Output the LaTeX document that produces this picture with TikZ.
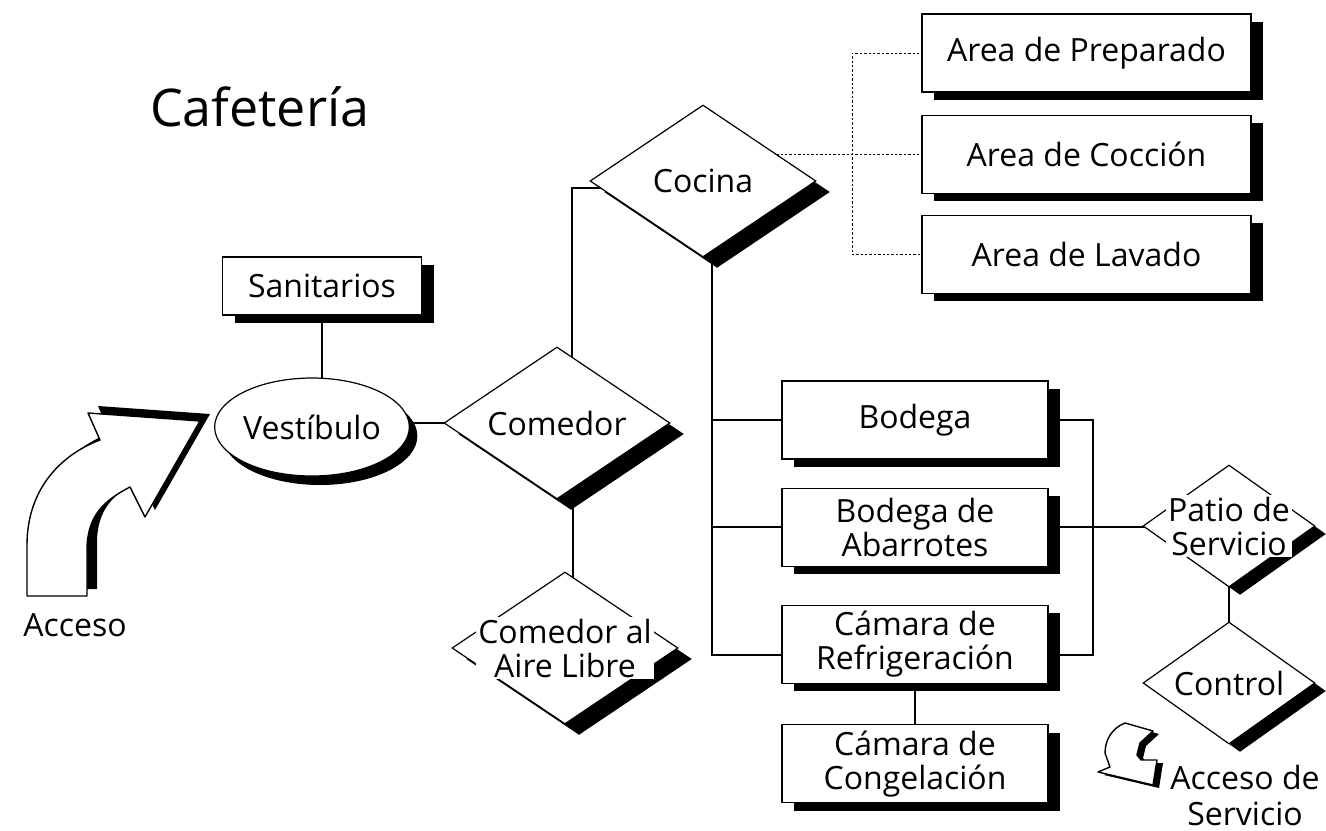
\documentclass[tikz,border=0pt]{standalone}
\usepackage{fontspec}
\setmainfont{Open Sans}
\usetikzlibrary{positioning,calc,shapes.geometric,shadows,backgrounds}
\tikzset{caja/.style={draw,fill=white,line width=.6pt,minimum width=133pt,minimum height=39pt,align=center,inner sep=2pt,
   drop shadow={shadow xshift=6pt,shadow yshift=-4pt,fill=black,opacity=1}},
 area/.style={caja,minimum width=164.5pt},
 elip/.style={ellipse,draw,fill=white,line width=.6pt,minimum width=88pt,minimum height=49pt,inner sep=0pt,
   drop shadow={shadow xshift=4pt,shadow yshift=-4.5pt,fill=black,opacity=1}},
 dia/.style={diamond,draw,fill=white,line width=.6pt,inner sep=0pt,
   label={[fill=white,inner sep=1pt,align=center]center:#1}},
 dg/.style={dia={#1},minimum width=113pt,minimum height=76pt,
   drop shadow={shadow xshift=7pt,shadow yshift=-5.5pt,fill=black,opacity=1}},
 dp/.style={dia={#1},minimum width=86pt,minimum height=61pt,
   drop shadow={shadow xshift=5.5pt,shadow yshift=-4pt,fill=black,opacity=1}},
 wire/.style={line width=1pt},punt/.style={line width=.5pt,dash pattern=on 1.2pt off 1pt},
 flecha/.style={draw,fill=white,line width=.7pt,line join=round,preaction={fill=black,transform canvas={shift={#1}}}},
 every node/.style={font=\fontsize{16}{17}\selectfont}}
\begin{document}
\begin{tikzpicture}[x=0.5pt,y=-0.5pt]
\useasboundingbox (0,0) rectangle (1326,830);
\node[anchor=west,font=\fontsize{26}{30}\selectfont] (tit) at (143,107) {Cafetería};
% entrada
\draw[flecha={(5pt,3.5pt)}] (27,596) -- (27,545) .. controls (27,490) and (60,455) .. (100,440) -- (88,413) -- (200,421)
  -- (145,517) -- (130,487) .. controls (105,500) and (87,515) .. (87,550) -- (87,596) -- cycle;
\node (acc) at (75,625) {Acceso};
\node[caja,minimum width=99.5pt,minimum height=29pt] (sani) at (322,286) {Sanitarios};
\node[elip] (vest) at (312,427) {Vestíbulo};
% rombos
\node[dg=Comedor] (com) at (557,423) {};
\node[dg=Cocina] (coc) at (703,181) {};
\node[dg={Comedor al\\Aire Libre}] (air) at (565,648) {};
% areas de cocina
\node[area] (prep) at (1086.5,53) {Area de Preparado};
\node[area,below=11pt of prep] (cocc) {Area de Cocción};
\node[area,below=10.5pt of cocc] (lav) {Area de Lavado};
% bodegas
\node[caja] (bod) at (915,420) {Bodega};
\node[caja,below=14pt of bod] (aba) {Bodega de\\Abarrotes};
\node[caja,below=19pt of aba] (ref) {Cámara de\\Refrigeración};
\node[caja,below=20pt of ref] (cong) {Cámara de\\Congelación};
% servicio
\node[dp={Patio de\\Servicio}] (pat) at (1229,526) {};
\node[dp=Control] (ctl) at (1229,683) {};
\draw[flecha={(3pt,-1.5pt)}] (1125,723) -- (1153,731) -- (1140,743) -- (1137,755) -- (1141,760) -- (1157,760)
  -- (1153,785) -- (1098,772) -- (1110,767) -- (1105,753) .. controls (1105,740) and (1112,728) .. (1125,723) -- cycle;
\node[align=center,font=\fontsize{16}{18}\selectfont] (accs) at (1245,795) {Acceso de\\Servicio};
\coordinate (kb) at (712,655);
\coordinate (rb) at (1093,655);
\begin{scope}[on background layer]
\draw[wire] (sani.south) -- (sani.south |- vest.center);
\draw[wire] (com.center) -- (com.center -| vest.center);
\draw[wire] ([xshift=7.5pt]com.center) |- ([yshift=-3.5pt]coc.center);
\draw[wire] ([xshift=4pt]air.center) -- ([xshift=4pt]air.center |- com.center);
\draw[punt] (cocc.center) -- (cocc.center -| coc.center);
\draw[punt] (prep.center) -- ++(-234.5,0) |- (lav.center);
\draw[wire] (kb |- coc.center) -- (kb) -- (kb -| ref.center);
\draw[wire] (kb |- bod.center) -- (bod.center);
\draw[wire] (kb |- aba.center) -- (aba.center);
\draw[wire] (rb -| ref.center) -- (rb) -- (rb |- bod.center) -- (bod.center);
\draw[wire] (aba.center) -- (aba.center -| pat.center);
\draw[wire] (ref.center) -- (cong.center);
\draw[wire] (pat.center) -- (ctl.center);
\end{scope}
\end{tikzpicture}
\end{document}
